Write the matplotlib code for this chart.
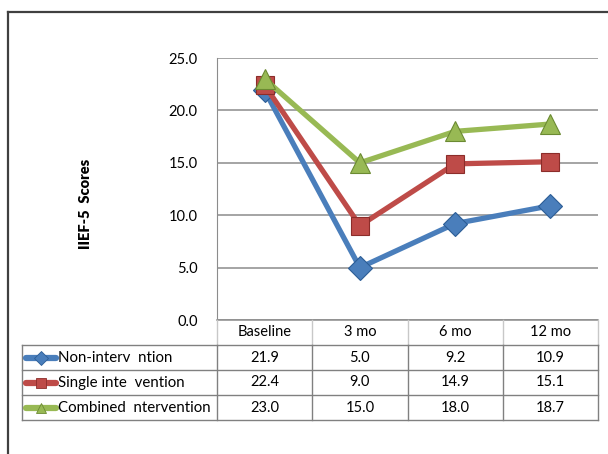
import matplotlib
matplotlib.use('Agg')
import matplotlib.pyplot as plt
from matplotlib.lines import Line2D

timepoints = ['Baseline', '3 mo', '6 mo', '12 mo']
groups = ['Non-interv  ntion', 'Single inte  vention', 'Combined  ntervention']
non_intervention = [21.9, 5.0, 9.2, 10.9]
single_intervention = [22.4, 9.0, 14.9, 15.1]
combined_intervention = [23.0, 15.0, 18.0, 18.7]
y_ticks = [0, 5, 10, 15, 20, 25]

series = [non_intervention, single_intervention, combined_intervention]
colors = ['#4a7ebb', '#be4b48', '#98b954']
edge_colors = ['#2c5d96', '#8c2d2a', '#6b8a32']
markers = ['D', 's', '^']
marker_sizes = [12, 13.5, 15]

plt.rcParams['font.family'] = ['Lato', 'DejaVu Sans']
plt.rcParams['font.size'] = 10

W, H = 608, 454
fig = plt.figure(figsize=(W / 100, H / 100), dpi=100)


def px_box(left, top, right, bottom):
    # pixel box (origin top-left) -> figure fraction rect
    return [left / W, 1 - bottom / H, (right - left) / W, (bottom - top) / H]


# line chart
ax = fig.add_axes(px_box(217, 58, 598, 320))
xs = list(range(len(timepoints)))
for vals, c, ec, m, ms in zip(series, colors, edge_colors, markers, marker_sizes):
    ax.plot(xs, vals, color=c, lw=3.8, marker=m, ms=ms, mfc=c, mec=ec, mew=0.8,
            zorder=3, clip_on=False)
ax.set_xlim(-0.5, len(timepoints) - 0.5)
ax.set_ylim(0, 25)
ax.set_yticks(y_ticks)
ax.set_yticklabels([f'{v:.1f}' for v in y_ticks])
ax.set_xticks([])
ax.yaxis.grid(True, color='#8c8c8c', lw=1.1)
ax.set_axisbelow(True)
for s in ['top', 'right', 'bottom']:
    ax.spines[s].set_visible(False)
ax.spines['left'].set_color('#8c8c8c')
ax.tick_params(axis='y', length=0, pad=14, labelsize=10.5)

fig.text(85 / W, 1 - 204 / H, 'IIEF-5  Scores', rotation=90, ha='center', va='center',
         fontsize=10.5, fontweight='heavy')

# data table under the chart
tax = fig.add_axes(px_box(217, 320, 598, 420))
tax.set_xlim(-0.5, len(timepoints) - 0.5)
tax.set_ylim(4, 0)
tax.axis('off')
unit = 381 / len(timepoints)
tab_left = -0.5 - (217 - 22) / unit
key_l, key_m, key_r = [-0.5 - (217 - p) / unit for p in (26, 41, 56)]
text_x = -0.5 - (217 - 58) / unit
right = len(timepoints) - 0.5

light, dark = '#c8c8c8', '#808080'
tax.plot([-0.5, right], [0, 0], color='#8c8c8c', lw=1.1, clip_on=False)
for b in [i - 0.5 for i in range(len(timepoints) + 1)]:
    tax.plot([b, b], [0, 1], color=light, lw=1, clip_on=False)
for r in range(1, 5):
    tax.plot([tab_left, right], [r, r], color=dark, lw=1, clip_on=False)
for b in [tab_left] + [i - 0.5 for i in range(len(timepoints) + 1)]:
    tax.plot([b, b], [1, 4], color=dark, lw=1, clip_on=False)

for i, t in enumerate(timepoints):
    tax.text(i, 0.5, t, ha='center', va='center', fontsize=10.5)

for r, (name, vals, c, ec, m) in enumerate(zip(groups, series, colors, edge_colors, markers)):
    yc = r + 1.5
    tax.plot([key_l, key_r], [yc, yc], color=c, lw=4.5, solid_capstyle='round', clip_on=False)
    tax.plot([key_m], [yc], marker=m, ms=7, mfc=c, mec=ec, mew=0.6, clip_on=False)
    tax.text(text_x, yc, name, ha='left', va='center', fontsize=10.8)
    for i, v in enumerate(vals):
        tax.text(i, yc, f'{v:.1f}', ha='center', va='center', fontsize=10.5)

# chart frame
fx = 7.5 / W
fy = 1 - 11.5 / H
fig.add_artist(Line2D([fx, fx], [0, fy], transform=fig.transFigure, color='#404040', lw=1.6))
fig.add_artist(Line2D([fx, 1], [fy, fy], transform=fig.transFigure, color='#404040', lw=1.6))

fig.savefig('out.png', dpi=100)
